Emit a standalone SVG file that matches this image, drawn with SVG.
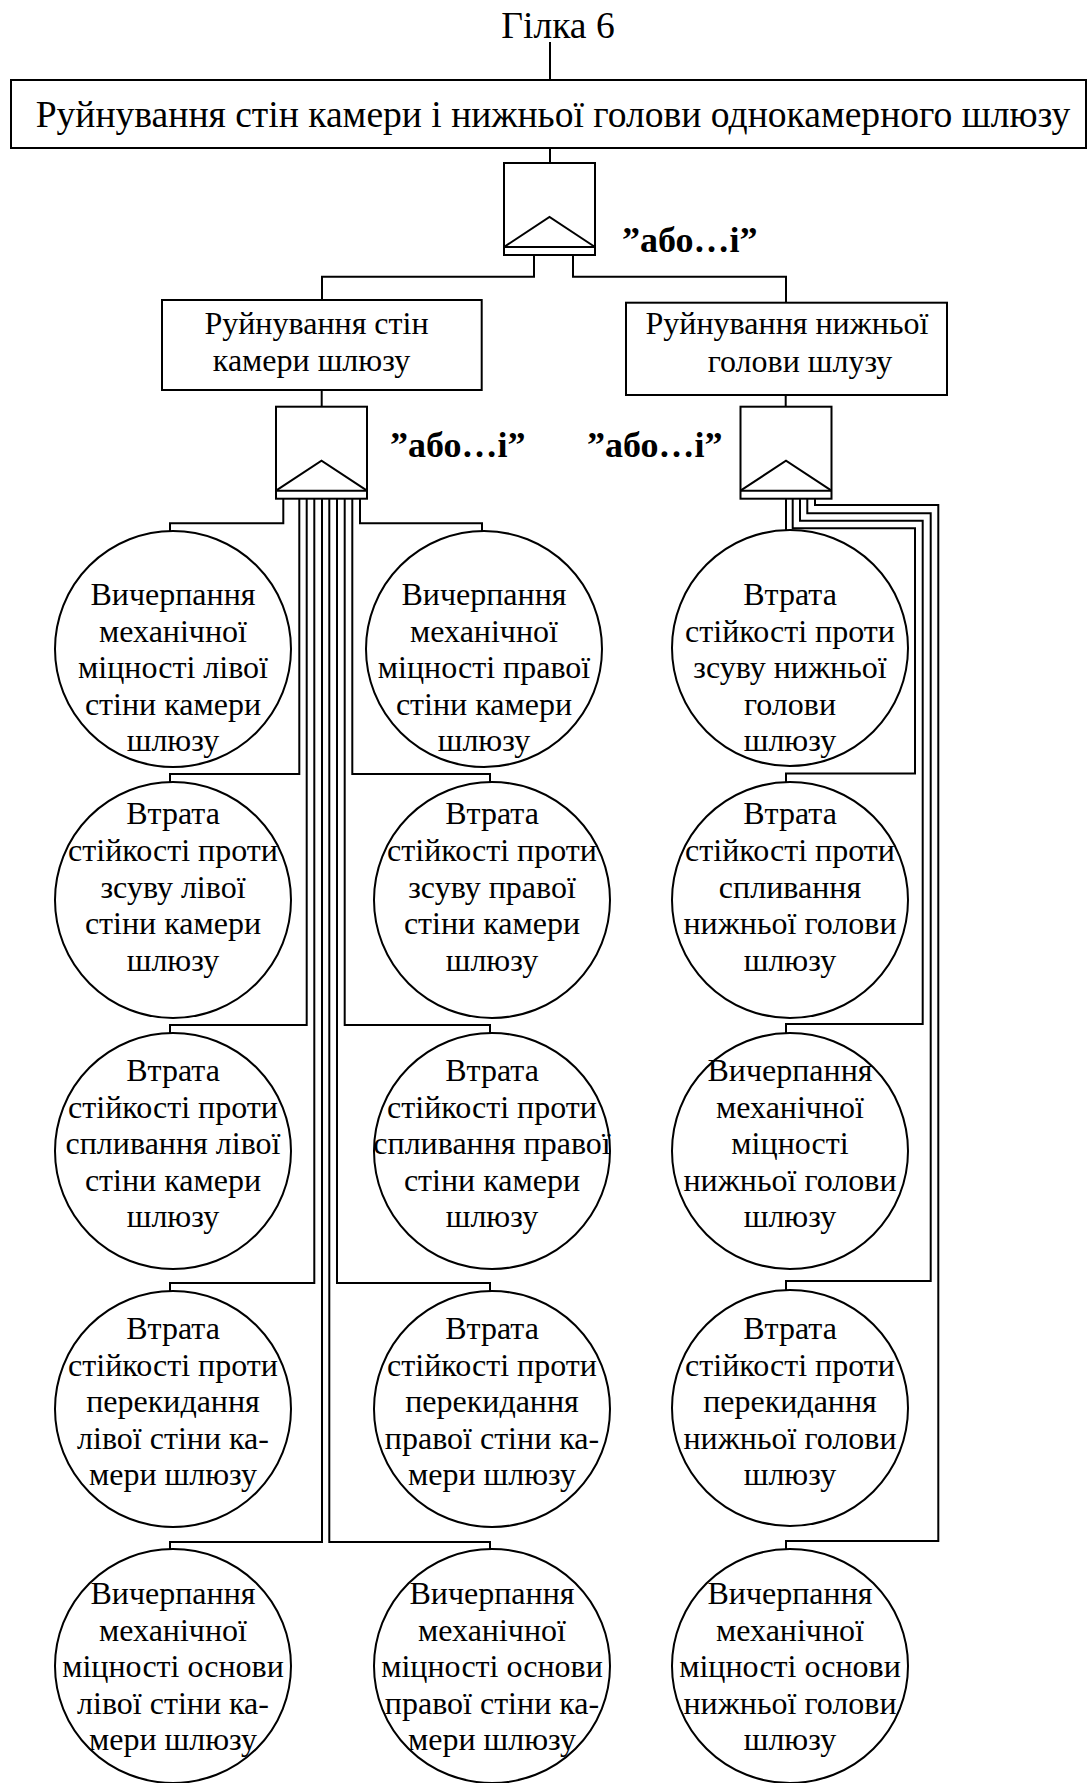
<svg xmlns="http://www.w3.org/2000/svg" width="1088" height="1783" viewBox="0 0 1088 1783">
  <style>
    .ln { fill: none; stroke: #000; stroke-width: 2; }
    .box { fill: #fff; stroke: #000; stroke-width: 2; }
    .gate { fill: #fff; stroke: #000; stroke-width: 2; }
    .ev { fill: #fff; stroke: #000; stroke-width: 2; }
    .t { font-family: "Liberation Serif", "Times New Roman", serif; font-size: 32px; text-anchor: middle; fill: #000; }
    .big { font-size: 37.6px; }
    .lbl { font-family: "Liberation Serif", "Times New Roman", serif; font-size: 36px; font-weight: bold; fill: #000; }
  </style>
  <defs>
    <!-- AND/OR gate: body, bottom strip, triangle -->
    <g id="gateShape">
      <rect class="gate" x="0" y="0" width="91" height="92"/>
      <line class="ln" x1="0" y1="84" x2="91" y2="84"/>
      <polyline class="ln" points="0,84 45.5,54 91,84"/>
    </g>
  </defs>

  <rect width="1088" height="1783" fill="#fff"/>

  <g id="connectors">
    <path class="ln" d="M550,42 V80"/>
    <path class="ln" d="M550,148 V163"/>
    <path class="ln" d="M534,255 V276.7 H322 V300"/>
    <path class="ln" d="M573,255 V276.7 H786 V302.7"/>
    <path class="ln" d="M321.7,390 V406.7"/>
    <path class="ln" d="M785.7,395 V406.7"/>

    <!-- left-hand gate outputs -->
    <path class="ln" d="M283.3,498 V523.3 H170 V531"/>
    <path class="ln" d="M360,498 V523.3 H482 V531"/>
    <path class="ln" d="M299.3,498 V774 H170 V782"/>
    <path class="ln" d="M306.7,498 V1025 H170 V1033"/>
    <path class="ln" d="M314.3,498 V1283 H170 V1291"/>
    <path class="ln" d="M322,498 V1542 H170 V1550"/>
    <path class="ln" d="M329.3,498 V1542 H490 V1550"/>
    <path class="ln" d="M337,498 V1283 H490 V1291"/>
    <path class="ln" d="M344.7,498 V1025 H490 V1033"/>
    <path class="ln" d="M352.3,498 V774 H490 V782"/>

    <!-- right-hand gate outputs -->
    <path class="ln" d="M786,498 V530"/>
    <path class="ln" d="M792.7,498 V528.3 H915 V773.5 H786 V782"/>
    <path class="ln" d="M800,498 V520.7 H922.7 V1024 H786 V1033"/>
    <path class="ln" d="M807.3,498 V513.3 H930.7 V1281 H786 V1290"/>
    <path class="ln" d="M815,498 V505 H938.3 V1541 H786 V1550"/>
  </g>

  <g id="title">
    <text class="t big" x="558" y="38">Гілка 6</text>
  </g>

  <g id="top-event">
    <rect class="box" x="11" y="80" width="1075" height="68"/>
    <text class="t big" x="553" y="127">Руйнування стін камери і нижньої голови однокамерного шлюзу</text>
  </g>

  <g id="gate-top">
    <use href="#gateShape" x="504" y="163"/>
    <text class="lbl" x="622" y="252">”або…і”</text>
  </g>

  <g id="chamber-walls">
    <rect class="box" x="162" y="300" width="319.7" height="90"/>
    <text class="t"><tspan x="316.5" y="334">Руйнування стін</tspan><tspan x="311.5" y="371">камери шлюзу</tspan></text>
  </g>

  <g id="lower-head">
    <rect class="box" x="626" y="302.7" width="321" height="92.3"/>
    <text class="t"><tspan x="787" y="334">Руйнування нижньої</tspan><tspan x="800" y="371.7">голови шлузу</tspan></text>
  </g>

  <g id="gate-walls">
    <use href="#gateShape" x="276" y="406.7"/>
    <text class="lbl" x="390" y="456.7">”або…і”</text>
  </g>

  <g id="gate-head">
    <use href="#gateShape" x="740.5" y="406.7"/>
    <text class="lbl" x="587" y="456.7">”або…і”</text>
  </g>

  <!-- left wall events -->
  <g id="e-l1">
    <ellipse class="ev" cx="173" cy="649" rx="118" ry="118"/>
    <text class="t"><tspan x="173" y="605">Вичерпання</tspan><tspan x="173" y="641.5">механічної</tspan><tspan x="173" y="678">міцності лівої</tspan><tspan x="173" y="714.5">стіни камери</tspan><tspan x="173" y="751">шлюзу</tspan></text>
  </g>
  <g id="e-l2">
    <ellipse class="ev" cx="173" cy="900" rx="118" ry="118"/>
    <text class="t"><tspan x="173" y="824">Втрата</tspan><tspan x="173" y="861">стійкості проти</tspan><tspan x="173" y="897.5">зсуву лівої</tspan><tspan x="173" y="934">стіни камери</tspan><tspan x="173" y="971">шлюзу</tspan></text>
  </g>
  <g id="e-l3">
    <ellipse class="ev" cx="173" cy="1151" rx="118" ry="118"/>
    <text class="t"><tspan x="173" y="1081">Втрата</tspan><tspan x="173" y="1117.5">стійкості проти</tspan><tspan x="173" y="1154">спливання лівої</tspan><tspan x="173" y="1190.5">стіни камери</tspan><tspan x="173" y="1227">шлюзу</tspan></text>
  </g>
  <g id="e-l4">
    <ellipse class="ev" cx="173" cy="1409" rx="118" ry="118"/>
    <text class="t"><tspan x="173" y="1339">Втрата</tspan><tspan x="173" y="1375.5">стійкості проти</tspan><tspan x="173" y="1412">перекидання</tspan><tspan x="173" y="1448.5">лівої стіни ка-</tspan><tspan x="173" y="1485">мери шлюзу</tspan></text>
  </g>
  <g id="e-l5">
    <ellipse class="ev" cx="173" cy="1666" rx="118" ry="117"/>
    <text class="t"><tspan x="173" y="1604">Вичерпання</tspan><tspan x="173" y="1640.5">механічної</tspan><tspan x="173" y="1677">міцності основи</tspan><tspan x="173" y="1713.5">лівої стіни ка-</tspan><tspan x="173" y="1750">мери шлюзу</tspan></text>
  </g>

  <!-- right wall events -->
  <g id="e-r1">
    <ellipse class="ev" cx="484" cy="649" rx="118" ry="118"/>
    <text class="t"><tspan x="484" y="605">Вичерпання</tspan><tspan x="484" y="641.5">механічної</tspan><tspan x="484" y="678">міцності правої</tspan><tspan x="484" y="714.5">стіни камери</tspan><tspan x="484" y="751">шлюзу</tspan></text>
  </g>
  <g id="e-r2">
    <ellipse class="ev" cx="492" cy="900" rx="118" ry="118"/>
    <text class="t"><tspan x="492" y="824">Втрата</tspan><tspan x="492" y="861">стійкості проти</tspan><tspan x="492" y="897.5">зсуву правої</tspan><tspan x="492" y="934">стіни камери</tspan><tspan x="492" y="971">шлюзу</tspan></text>
  </g>
  <g id="e-r3">
    <ellipse class="ev" cx="492" cy="1151" rx="118" ry="118"/>
    <text class="t"><tspan x="492" y="1081">Втрата</tspan><tspan x="492" y="1117.5">стійкості проти</tspan><tspan x="492" y="1154">спливання правої</tspan><tspan x="492" y="1190.5">стіни камери</tspan><tspan x="492" y="1227">шлюзу</tspan></text>
  </g>
  <g id="e-r4">
    <ellipse class="ev" cx="492" cy="1409" rx="118" ry="118"/>
    <text class="t"><tspan x="492" y="1339">Втрата</tspan><tspan x="492" y="1375.5">стійкості проти</tspan><tspan x="492" y="1412">перекидання</tspan><tspan x="492" y="1448.5">правої стіни ка-</tspan><tspan x="492" y="1485">мери шлюзу</tspan></text>
  </g>
  <g id="e-r5">
    <ellipse class="ev" cx="492" cy="1666" rx="118" ry="117"/>
    <text class="t"><tspan x="492" y="1604">Вичерпання</tspan><tspan x="492" y="1640.5">механічної</tspan><tspan x="492" y="1677">міцності основи</tspan><tspan x="492" y="1713.5">правої стіни ка-</tspan><tspan x="492" y="1750">мери шлюзу</tspan></text>
  </g>

  <!-- lower head events -->
  <g id="e-h1">
    <ellipse class="ev" cx="790" cy="648" rx="118" ry="118"/>
    <text class="t"><tspan x="790" y="605">Втрата</tspan><tspan x="790" y="641.5">стійкості проти</tspan><tspan x="790" y="678">зсуву нижньої</tspan><tspan x="790" y="714.5">голови</tspan><tspan x="790" y="751">шлюзу</tspan></text>
  </g>
  <g id="e-h2">
    <ellipse class="ev" cx="790" cy="900" rx="118" ry="118"/>
    <text class="t"><tspan x="790" y="824">Втрата</tspan><tspan x="790" y="861">стійкості проти</tspan><tspan x="790" y="897.5">спливання</tspan><tspan x="790" y="934">нижньої голови</tspan><tspan x="790" y="971">шлюзу</tspan></text>
  </g>
  <g id="e-h3">
    <ellipse class="ev" cx="790" cy="1151" rx="118" ry="118"/>
    <text class="t"><tspan x="790" y="1081">Вичерпання</tspan><tspan x="790" y="1117.5">механічної</tspan><tspan x="790" y="1154">міцності</tspan><tspan x="790" y="1190.5">нижньої голови</tspan><tspan x="790" y="1227">шлюзу</tspan></text>
  </g>
  <g id="e-h4">
    <ellipse class="ev" cx="790" cy="1408" rx="118" ry="118"/>
    <text class="t"><tspan x="790" y="1339">Втрата</tspan><tspan x="790" y="1375.5">стійкості проти</tspan><tspan x="790" y="1412">перекидання</tspan><tspan x="790" y="1448.5">нижньої голови</tspan><tspan x="790" y="1485">шлюзу</tspan></text>
  </g>
  <g id="e-h5">
    <ellipse class="ev" cx="790" cy="1666" rx="118" ry="117"/>
    <text class="t"><tspan x="790" y="1604">Вичерпання</tspan><tspan x="790" y="1640.5">механічної</tspan><tspan x="790" y="1677">міцності основи</tspan><tspan x="790" y="1713.5">нижньої голови</tspan><tspan x="790" y="1750">шлюзу</tspan></text>
  </g>
</svg>
